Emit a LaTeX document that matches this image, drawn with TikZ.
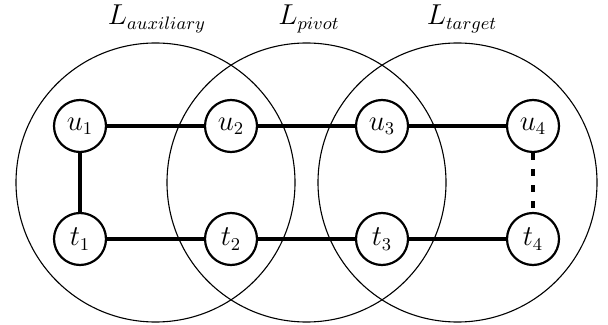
\documentclass[tikz,border=0pt]{standalone}
\begin{document}
\begin{tikzpicture}[x=0.5pt,y=-0.5pt,
  vtx/.style={circle,draw,line width=1.1pt,minimum size=26pt,inner sep=0pt,font=\fontsize{13.5}{16}\selectfont},
  layer/.style={circle,draw,line width=0.55pt,minimum size=139.5pt,inner sep=0pt},
  lbl/.style={font=\fontsize{13.5}{16}\selectfont,inner sep=0pt},
  edge/.style={line width=1.6pt},
  dedge/.style={line width=1.6pt,dash pattern=on 3.5pt off 4.5pt}]
\useasboundingbox (0,0) rectangle (608,325);
\node[layer] (A) at (155.5,182.5) {};
\node[layer] (P) at (306.5,182.5) {};
\node[layer] (T) at (457.5,182.5) {};
\node[lbl,anchor=base] (LA) at (157,25) {$L_{auxiliary}$};
\node[lbl,anchor=base] (LP) at (309,25) {$L_{pivot}$};
\node[lbl,anchor=base] (LT) at (462,25) {$L_{target}$};
\node[vtx] (u1) at (80,126) {$u_1$};
\node[vtx] (u2) at (231,126) {$u_2$};
\node[vtx] (u3) at (382,126) {$u_3$};
\node[vtx] (u4) at (533,126) {$u_4$};
\node[vtx] (t1) at (80,239) {$t_1$};
\node[vtx] (t2) at (231,239) {$t_2$};
\node[vtx] (t3) at (382,239) {$t_3$};
\node[vtx] (t4) at (533,239) {$t_4$};
\draw[edge] (u1) -- (u2);
\draw[edge] (u2) -- (u3);
\draw[edge] (u3) -- (u4);
\draw[edge] (t1) -- (t2);
\draw[edge] (t2) -- (t3);
\draw[edge] (t3) -- (t4);
\draw[edge] (u1) -- (t1);
\draw[dedge] (u4) -- (t4);
\end{tikzpicture}
\end{document}
